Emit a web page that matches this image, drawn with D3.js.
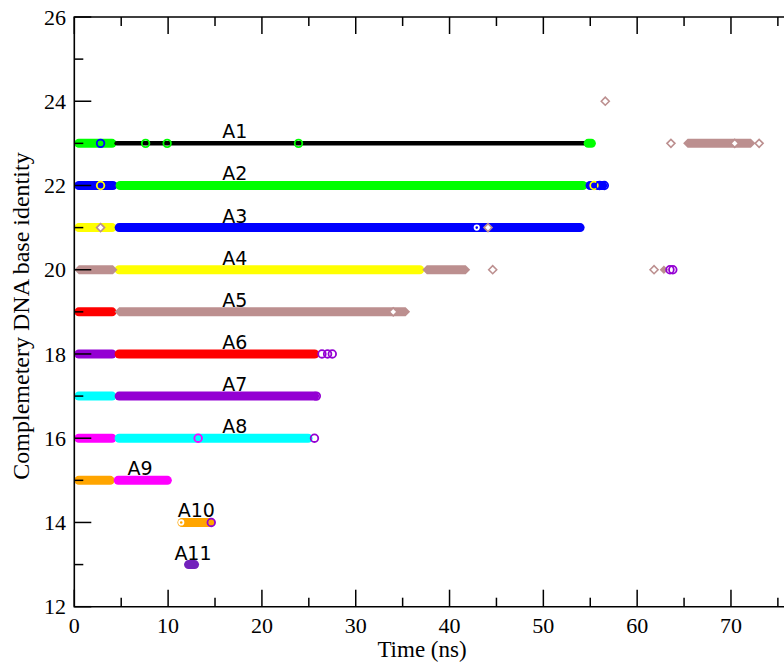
<!DOCTYPE html>
<html><head><meta charset="utf-8">
<script src="https://cdn.jsdelivr.net/npm/d3@7"></script>
<style>body{margin:0;background:#fff}svg{display:block}</style>
</head><body>
<script>
// ---- data ----
const categories = ["A1","A2","A3","A4","A5","A6","A7","A8","A9","A10","A11"];
const categoryRow = [23,22,21,20,19,18,17,16,15,14,13];
const labelTime = [17.1,17.1,17.1,17.1,17.1,17.1,17.1,17.1,7.0,13.0,12.65];
const xTicks = [0,10,20,30,40,50,60,70];
const yTicks = [12,14,16,18,20,22,24,26];

// circle-marker runs: [row, start, end, colour]
const circleRuns = [
  [23,0,4.5,"green"],[23,4.3,54.6,"black"],[23,54.3,55.6,"green"],
  [22,0,4.6,"blue"],[22,4.4,54.7,"green"],[22,54.5,56.8,"blue"],
  [21,0,4.5,"yellow"],[21,4.3,54.4,"blue"],
  [20,4.3,37.3,"yellow"],
  [19,0,4.5,"red"],
  [18,0,4.5,"violet"],[18,4.3,26.1,"red"],
  [17,0,4.5,"cyan"],[17,4.3,26.1,"violet"],
  [16,0,4.5,"magenta"],[16,4.3,25.4,"cyan"],
  [15,0,4.3,"orange"],[15,4.2,10.4,"magenta"],
  [14,11.0,15.0,"orange"],
  [13,11.7,13.3,"indigo"]
];
// diamond-marker runs: [row, start, end, colour]
const diamondRuns = [
  [23,64.9,72.6,"brown"],
  [20,0,4.6,"brown"],[20,37.1,42.2,"brown"],[20,62.4,63.3,"brown"],
  [19,4.3,35.8,"brown"]
];
// single circle markers: [row, time, colour]
const circleMarks = [
  [23,2.8,"blue"],[23,7.6,"green"],[23,9.9,"green"],[23,23.9,"green"],
  [22,2.8,"yellow"],[22,55.4,"yellow"],[22,56.0,"blue"],[22,56.5,"blue"],
  [21,42.9,"white"],
  [20,63.5,"violet"],[20,63.8,"violet"],
  [18,26.4,"violet"],[18,27.0,"violet"],[18,27.5,"violet"],
  [17,25.8,"violet"],
  [16,13.2,"magenta"],[16,25.6,"violet"],
  [14,11.4,"white"],[14,14.6,"violet"]
];
// single diamond markers: [row, time, colour]
const diamondMarks = [
  [24,56.6,"brown"],[23,63.6,"brown"],[23,70.4,"brown"],[23,73.0,"brown"],
  [21,2.8,"brown"],[21,44.1,"brown"],
  [20,44.6,"brown"],[20,61.8,"brown"],
  [19,34.0,"brown"]
];

const palette = {black:"#000000",red:"#ff0000",green:"#00ff00",blue:"#0000ff",yellow:"#ffff00",
  brown:"#bc8f8f",violet:"#9400d3",cyan:"#00ffff",magenta:"#ff00ff",orange:"#ffa500",
  indigo:"#7221bc",white:"#ffffff"};

// ---- layout ----
const W = 784, H = 669;
const x = d3.scaleLinear().domain([0,80]).range([74.3, 74.3 + 80*9.381]);
const y = d3.scaleLinear().domain([12,26]).range([606.7, 17]);

const svg = d3.select("body").append("svg").attr("width",W).attr("height",H);

const plot = svg.append("g");
const halfH = 4.5;

// circle runs as thick rounded lines
plot.selectAll("line.run").data(circleRuns).join("line")
  .attr("class","run")
  .attr("x1", d => x(d[1]) + (d[3]==="black"?2:halfH))
  .attr("x2", d => x(d[2]) - (d[3]==="black"?2:halfH))
  .attr("y1", d => y(d[0])).attr("y2", d => y(d[0]))
  .attr("stroke", d => palette[d[3]])
  .attr("stroke-width", d => d[3]==="black" ? 4.5 : 9)
  .attr("stroke-linecap","round");

// diamond runs as hexagons
plot.selectAll("path.drun").data(diamondRuns).join("path")
  .attr("class","drun")
  .attr("d", d => {
    const a = x(d[1]), b = x(d[2]), c = y(d[0]), h = halfH;
    return `M${a},${c}L${a+h},${c-h}L${b-h},${c-h}L${b},${c}L${b-h},${c+h}L${a+h},${c+h}Z`;
  })
  .attr("fill", d => palette[d[3]]);

// circle markers
plot.selectAll("circle.mk").data(circleMarks).join("circle")
  .attr("class","mk")
  .attr("cx", d => x(d[1])).attr("cy", d => y(d[0]))
  .attr("r", d => d[2]==="white" ? 2.2 : 3.8)
  .attr("fill", "none")
  .attr("stroke", d => palette[d[2]])
  .attr("stroke-width", 1.8);

// diamond markers
plot.selectAll("path.dmk").data(diamondMarks).join("path")
  .attr("class","dmk")
  .attr("d", d => {
    const cx = x(d[1]), cy = y(d[0]), h = 4;
    return `M${cx-h},${cy}L${cx},${cy-h}L${cx+h},${cy}L${cx},${cy+h}Z`;
  })
  .attr("fill","#fff")
  .attr("stroke", d => palette[d[2]])
  .attr("stroke-width", 1.6);

// labels
plot.selectAll("text.lab").data(categories).join("text")
  .attr("class","lab")
  .attr("x", (d,i) => x(labelTime[i]))
  .attr("y", (d,i) => y(categoryRow[i]) - 5)
  .attr("text-anchor","middle")
  .attr("font-family","DejaVu Sans")
  .attr("font-size", 19)
  .text(d => d);

// ---- axes ----
const serif = "Liberation Serif";
const ax = svg.append("g");
const xMajor = d3.range(0, 81, 10), xMinor = d3.range(5, 81, 10);
const yMajor = d3.range(12, 27, 2), yMinor = d3.range(13, 26, 2);
const tickG = ax.append("g").attr("stroke","#000").attr("stroke-width",1.5);
// bottom/top
[[y(12),-1],[y(26),1]].forEach(([yy,dir]) => {
  tickG.selectAll(null).data(xMajor).join("line")
    .attr("x1",d=>x(d)).attr("x2",d=>x(d)).attr("y1",yy).attr("y2",yy+dir*17);
  tickG.selectAll(null).data(xMinor).join("line")
    .attr("x1",d=>x(d)).attr("x2",d=>x(d)).attr("y1",yy).attr("y2",yy+dir*9);
});
// left
tickG.selectAll(null).data(yMajor).join("line")
  .attr("y1",d=>y(d)).attr("y2",d=>y(d)).attr("x1",x(0)).attr("x2",x(0)+17);
tickG.selectAll(null).data(yMinor).join("line")
  .attr("y1",d=>y(d)).attr("y2",d=>y(d)).attr("x1",x(0)).attr("x2",x(0)+9);
// frame
ax.append("path")
  .attr("d", `M${x(80)},${y(26)}H${x(0)}V${y(12)}H${x(80)}`)
  .attr("fill","none").attr("stroke","#000").attr("stroke-width",1.6);

ax.selectAll("text.xt").data(xTicks).join("text")
  .attr("class","xt").attr("x",d=>x(d)).attr("y",632.7)
  .attr("text-anchor","middle").attr("font-family",serif).attr("font-size",22)
  .text(d=>d);
ax.selectAll("text.yt").data(yTicks).join("text")
  .attr("class","yt").attr("x",66).attr("y",d=>y(d)).attr("dy","0.35em")
  .attr("text-anchor","end").attr("font-family",serif).attr("font-size",22)
  .text(d=>d);

svg.append("text").attr("x",422).attr("y",657)
  .attr("text-anchor","middle").attr("font-family",serif).attr("font-size",23)
  .text("Time (ns)");
svg.append("text").attr("transform","translate(29,316) rotate(-90)")
  .attr("text-anchor","middle").attr("font-family",serif).attr("font-size",24)
  .text("Complemetery DNA base identity");
</script>
</body></html>
